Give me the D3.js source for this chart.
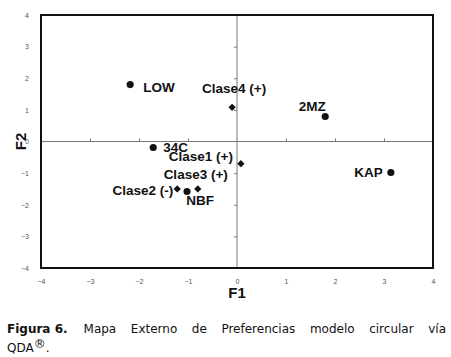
<!DOCTYPE html>
<html>
<head>
<meta charset="utf-8">
<script src="https://cdn.jsdelivr.net/npm/d3@7"></script>
<style>
body { margin: 0; background: white; }
.tick text { font-family: "Liberation Sans", Arial, sans-serif; font-size: 7px; fill: #555; }
.lbl { font-family: "Liberation Sans", Arial, sans-serif; font-size: 13.5px; font-weight: bold; fill: #111; }
.title { font-family: "Liberation Sans", Arial, sans-serif; font-size: 15px; font-weight: bold; fill: #111; }
.cap { font-family: "DejaVu Sans", sans-serif; font-size: 12px; fill: #111; }
</style>
</head>
<body>
<script>
// points
const names = ["LOW", "Clase4 (+)", "2MZ", "34C", "Clase1 (+)", "Clase3 (+)", "Clase2 (-)", "NBF", "KAP"];
const f1 = [-2.18, -0.10, 1.80, -1.71, 0.08, -0.80, -1.22, -1.02, 3.14];
const f2 = [1.80, 1.08, 0.79, -0.19, -0.70, -1.50, -1.50, -1.58, -0.98];
const kind = ["dot", "diamond", "dot", "dot", "diamond", "diamond", "diamond", "dot", "dot"];
const ticks = [-4, -3, -2, -1, 0, 1, 2, 3, 4];

// where each label sits relative to its marker
const labelPos = {
  "LOW": [13, 3, "start"],
  "Clase4 (+)": [2, -19, "middle"],
  "2MZ": [-13, -10, "middle"],
  "34C": [10, 0, "start"],
  "Clase1 (+)": [-8, -7, "end"],
  "Clase3 (+)": [30, -15, "end"],
  "Clase2 (-)": [-4, 1, "end"],
  "NBF": [13, 9, "middle"],
  "KAP": [-8, 0, "end"]
};

const W = 451, H = 357;
const svg = d3.select("body").append("svg").attr("width", W).attr("height", H);

const x = d3.scaleLinear().domain([-4, 4]).range([41, 433]);
const y = d3.scaleLinear().domain([-4, 4]).range([268, 15]);

// zero lines
svg.append("line").attr("x1", x(-4)).attr("x2", x(4)).attr("y1", y(0)).attr("y2", y(0))
   .attr("stroke", "#777").attr("stroke-width", 1);
svg.append("line").attr("x1", x(0)).attr("x2", x(0)).attr("y1", y(-4)).attr("y2", y(4))
   .attr("stroke", "#777").attr("stroke-width", 1);

// little ticks on the zero lines
const inner = ticks.filter(d => d !== 0 && Math.abs(d) < 4);
svg.append("g").attr("transform", `translate(0,${y(0)})`)
   .call(d3.axisTop(x).tickValues(inner).tickSize(3).tickFormat(""))
   .call(g => g.select(".domain").remove())
   .selectAll("line").attr("stroke", "#777");
svg.append("g").attr("transform", `translate(${x(0)},0)`)
   .call(d3.axisLeft(y).tickValues(inner).tickSize(3).tickFormat(""))
   .call(g => g.select(".domain").remove())
   .selectAll("line").attr("stroke", "#777");

// tick labels outside the frame
svg.append("g").attr("transform", `translate(0,${y(-4) + 8})`)
   .call(d3.axisBottom(x).tickValues(ticks).tickSize(0).tickFormat(d3.format("d")))
   .call(g => g.select(".domain").remove());
svg.append("g").attr("transform", `translate(${x(-4) - 9},0)`)
   .call(d3.axisLeft(y).tickValues(ticks).tickSize(0).tickFormat(d3.format("d")))
   .call(g => g.select(".domain").remove());

// frame
svg.append("rect").attr("x", x(-4)).attr("y", y(4))
   .attr("width", x(4) - x(-4)).attr("height", y(-4) - y(4))
   .attr("fill", "none").attr("stroke", "#111").attr("stroke-width", 2);

// markers
const pts = names.map((n, i) => ({ name: n, f1: f1[i], f2: f2[i], kind: kind[i] }));
svg.selectAll("path.mark").data(pts).enter().append("path")
   .attr("class", "mark")
   .attr("transform", d => `translate(${x(d.f1)},${y(d.f2)})`)
   .attr("d", d => d.kind === "dot"
       ? d3.symbol(d3.symbolCircle, 40)()
       : d3.symbol(d3.symbolDiamond2, 34)())
   .attr("fill", "#111");

svg.selectAll("text.lbl").data(pts).enter().append("text")
   .attr("class", "lbl")
   .attr("x", d => x(d.f1) + labelPos[d.name][0])
   .attr("y", d => y(d.f2) + labelPos[d.name][1])
   .attr("dy", "0.36em")
   .attr("text-anchor", d => labelPos[d.name][2])
   .text(d => d.name);

// axis titles
svg.append("text").attr("class", "title").attr("text-anchor", "middle")
   .attr("transform", `translate(${x(0)}, 298)`).text("F1");
svg.append("text").attr("class", "title").attr("text-anchor", "middle")
   .attr("transform", `translate(26, ${y(0)}) rotate(-90)`).text("F2");

// caption, first line justified
const capWords = ["Mapa", "Externo", "de", "Preferencias", "modelo", "circular", "vía"];
const head = svg.append("text").attr("class", "cap").attr("x", 7).attr("y", 333)
   .attr("font-weight", "bold").text("Figura 6.");
const headEnd = 7 + head.node().getComputedTextLength();
const wordNodes = capWords.map(w => svg.append("text").attr("class", "cap").attr("y", 333).text(w));
const widths = wordNodes.map(n => n.node().getComputedTextLength());
const lineEnd = 446;
const firstGap = 16;
const used = d3.sum(widths);
const gap = (lineEnd - headEnd - firstGap - used) / (capWords.length - 1);
let cx = headEnd + firstGap;
wordNodes.forEach((n, i) => { n.attr("x", cx); cx += widths[i] + gap; });

const l2 = svg.append("text").attr("class", "cap").attr("x", 7).attr("y", 352);
l2.append("tspan").text("QDA");
l2.append("tspan").attr("dy", -4).attr("font-size", 12).text("®");
l2.append("tspan").attr("dy", 4).text(".");
</script>
</body>
</html>
